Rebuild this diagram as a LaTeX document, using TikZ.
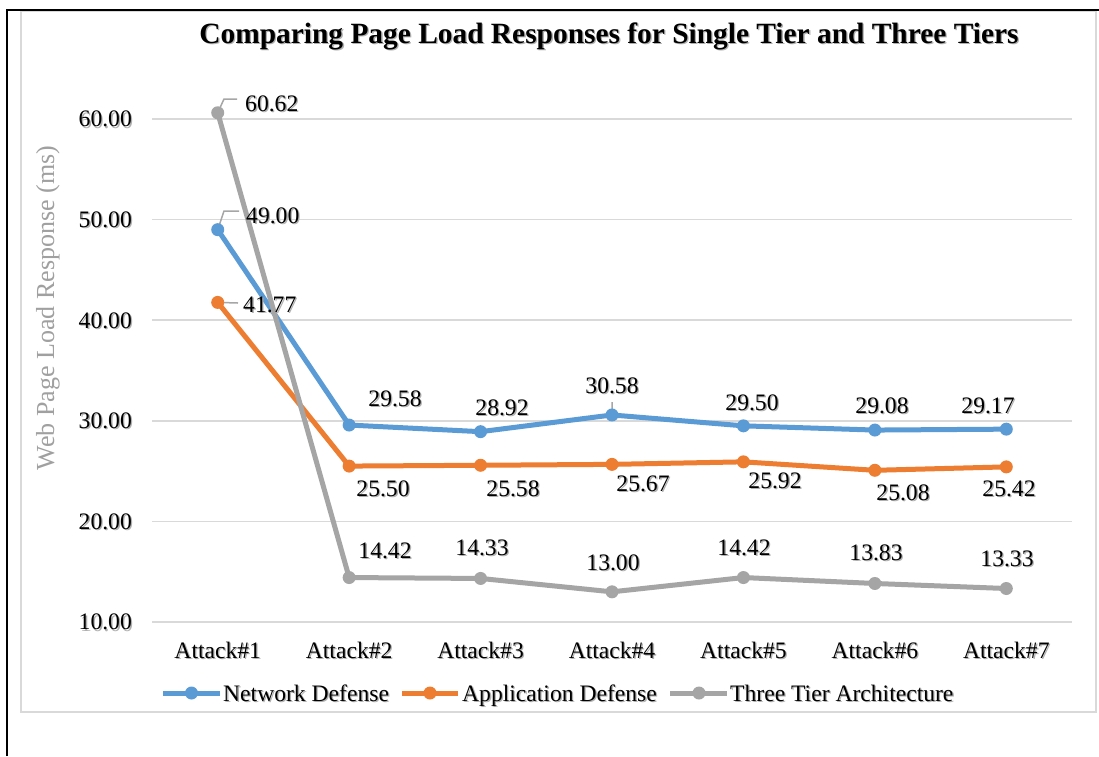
\documentclass[tikz,border=0pt]{standalone}
\usepackage{fontspec}
\setmainfont{Liberation Serif}
\definecolor{netc}{HTML}{5B9BD5}
\definecolor{appc}{HTML}{ED7D31}
\definecolor{tierc}{HTML}{A5A5A5}
\definecolor{gridc}{HTML}{D9D9D9}
\definecolor{leadc}{HTML}{A6A6A6}
\definecolor{shadowc}{HTML}{B0B0B0}
\definecolor{axtitc}{HTML}{A0A0A0}
\newcommand\shd[1]{\rlap{\kern1.3pt\raisebox{-1.3pt}{\textcolor{shadowc}{#1}}}#1}
\begin{document}
\begin{tikzpicture}[x=1pt,y=-1pt,
  declare function={yv(\v)=622-10.06*(\v-10);},
  txt/.style={font=\fontsize{23.6}{27}\selectfont, inner sep=0pt, text=black},
  lbl/.style={txt, anchor=base},
  lblw/.style={txt, anchor=base west},
  ticklbl/.style={txt, anchor=base east},
  grid/.style={draw=gridc, line width=1.5pt},
  netline/.style={draw=netc, line width=5pt, line join=round, line cap=round},
  appline/.style={draw=appc, line width=5pt, line join=round, line cap=round},
  tierline/.style={draw=tierc, line width=5pt, line join=round, line cap=round},
  netmark/.style={circle, fill=netc, minimum size=13pt, inner sep=0pt},
  appmark/.style={circle, fill=appc, minimum size=13pt, inner sep=0pt},
  tiermark/.style={circle, fill=tierc, minimum size=13pt, inner sep=0pt},
  leader/.style={draw=leadc, line width=1.5pt},
]
\useasboundingbox (0,0) rectangle (1099,756);
\fill[white] (0,0) rectangle (1099,756);
% chart area border
\draw[draw=gridc, line width=1.5pt] (21,11) rectangle (1096,712);
% outer frame (top and left)
\draw[black, line width=2.5pt] (7,756) -- (7,10) -- (1099,10);

% title
\node[font=\fontsize{29.4}{33}\selectfont\bfseries, inner sep=0pt, anchor=base] (title) at (609,43) {\shd{Comparing Page Load Responses for Single Tier and Three Tiers}};

% y axis title
\node[font=\fontsize{26}{30}\selectfont, text=axtitc, rotate=90, inner sep=0pt] (ytitle) at (48,308) {Web Page Load Response (ms)};

% grid lines and tick labels
\foreach \v/\t in {10/10.00,20/20.00,30/30.00,40/40.00,50/50.00,60/60.00}{
  \draw[grid] (152,{yv(\v)}) -- (1072,{yv(\v)});
  \node[ticklbl] (tick\v) at (132,{yv(\v)+7.8}) {\shd{\t}};
}

% category labels
\foreach \i in {1,...,7}{
  \node[lbl] (cat\i) at ({152+131.43*(\i-0.5)},658) {\shd{Attack\#\i}};
}

% data coordinates
\foreach \s/\a/\b/\c/\d/\e/\f/\g in {
  n/49.00/29.58/28.92/30.58/29.50/29.08/29.17,
  a/41.77/25.50/25.58/25.67/25.92/25.08/25.42,
  t/60.62/14.42/14.33/13.00/14.42/13.83/13.33}{
  \coordinate (\s1) at ({152+131.43*0.5},{yv(\a)});
  \coordinate (\s2) at ({152+131.43*1.5},{yv(\b)});
  \coordinate (\s3) at ({152+131.43*2.5},{yv(\c)});
  \coordinate (\s4) at ({152+131.43*3.5},{yv(\d)});
  \coordinate (\s5) at ({152+131.43*4.5},{yv(\e)});
  \coordinate (\s6) at ({152+131.43*5.5},{yv(\f)});
  \coordinate (\s7) at ({152+131.43*6.5},{yv(\g)});
}

% leader lines
\draw[leader] (t1) -- (224,99) -- (237,99);
\draw[leader] (n1) -- (224,211) -- (239,211);
\draw[leader] (a1) -- (238,303);
\draw[leader] (n4) -- (612,402);

% series: network
\draw[netline] (n1) -- (n2) -- (n3) -- (n4) -- (n5) -- (n6) -- (n7);
\foreach \i in {1,...,7}{\node[netmark] (nm\i) at (n\i) {};}
% series: application
\draw[appline] (a1) -- (a2) -- (a3) -- (a4) -- (a5) -- (a6) -- (a7);
\foreach \i in {1,...,7}{\node[appmark] (am\i) at (a\i) {};}
% series: three tier
\draw[tierline] (t1) -- (t2) -- (t3) -- (t4) -- (t5) -- (t6) -- (t7);
\foreach \i in {1,...,7}{\node[tiermark] (tm\i) at (t\i) {};}

% data labels: network
\node[lblw] (ln1) at (246,223) {\shd{49.00}};
\node[lbl] (ln2) at (395,406) {\shd{29.58}};
\node[lbl] (ln3) at (502,415) {\shd{28.92}};
\node[lbl] (ln4) at (612,393) {\shd{30.58}};
\node[lbl] (ln5) at (752,410) {\shd{29.50}};
\node[lbl] (ln6) at (882,413) {\shd{29.08}};
\node[lbl] (ln7) at (988,413) {\shd{29.17}};
% data labels: application
\node[lblw] (la1) at (243,312) {\shd{41.77}};
\node[lbl] (la2) at (383,496) {\shd{25.50}};
\node[lbl] (la3) at (513,496) {\shd{25.58}};
\node[lbl] (la4) at (643,491) {\shd{25.67}};
\node[lbl] (la5) at (775,488) {\shd{25.92}};
\node[lbl] (la6) at (903,500) {\shd{25.08}};
\node[lbl] (la7) at (1009,496) {\shd{25.42}};
% data labels: three tier
\node[lblw] (lt1) at (245,111) {\shd{60.62}};
\node[lbl] (lt2) at (385,558) {\shd{14.42}};
\node[lbl] (lt3) at (482,555) {\shd{14.33}};
\node[lbl] (lt4) at (613,570) {\shd{13.00}};
\node[lbl] (lt5) at (744,555) {\shd{14.42}};
\node[lbl] (lt6) at (876,560) {\shd{13.83}};
\node[lbl] (lt7) at (1007,566) {\shd{13.33}};

% legend
\coordinate (lgn0) at (163,693); \coordinate (lgn1) at (220,693);
\coordinate (lga0) at (402,693); \coordinate (lga1) at (458,693);
\coordinate (lgt0) at (670,693); \coordinate (lgt1) at (727,693);
\draw[netline, line cap=butt] (lgn0) -- (lgn1);
\node[netmark] (lgnm) at (191.5,693) {};
\node[lblw] (lgnt) at (223,701) {\shd{Network Defense}};
\draw[appline, line cap=butt] (lga0) -- (lga1);
\node[appmark] (lgam) at (430,693) {};
\node[lblw] (lgat) at (462,701) {\shd{Application Defense}};
\draw[tierline, line cap=butt] (lgt0) -- (lgt1);
\node[tiermark] (lgtm) at (699,693) {};
\node[lblw] (lgtt) at (730,701) {\shd{Three Tier Architecture}};
\end{tikzpicture}
\end{document}
